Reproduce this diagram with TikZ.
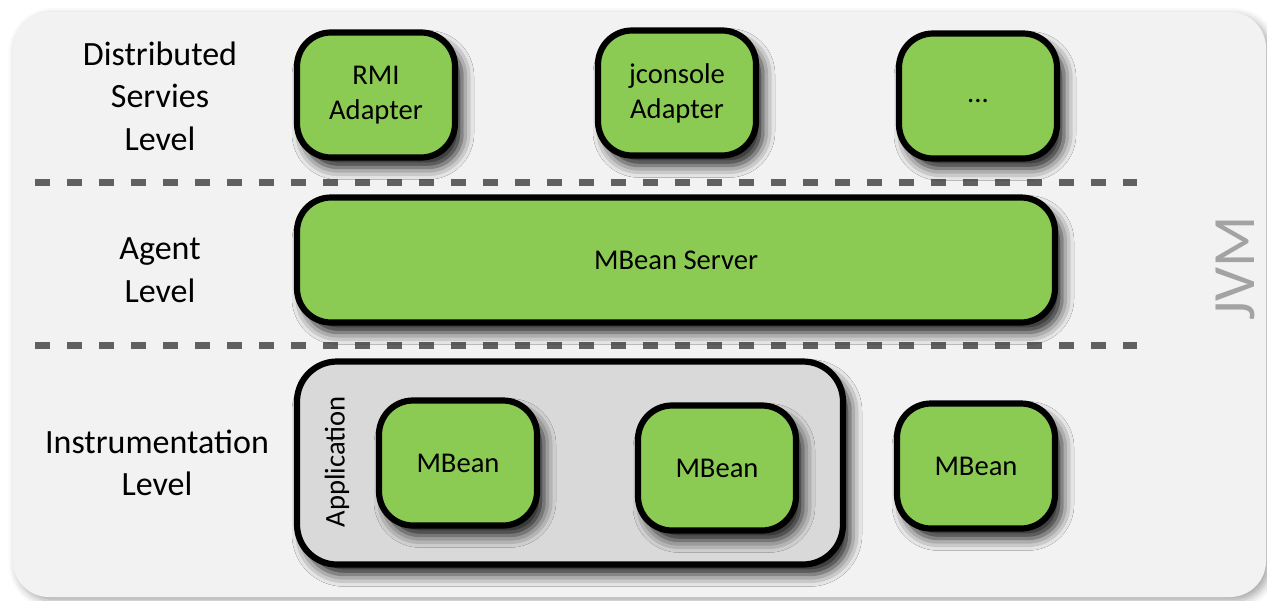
\documentclass[tikz,border=0pt]{standalone}
\usepackage{fontspec}
\setmainfont{Carlito}
\usetikzlibrary{shadows.blur}
\definecolor{beangreen}{HTML}{8BCB53}
\definecolor{jvmback}{HTML}{F2F2F2}
\definecolor{appgray}{HTML}{D9D9D9}
\definecolor{sepgray}{HTML}{606060}
\definecolor{jvmgray}{HTML}{A3A3A3}

\begin{document}
\begin{tikzpicture}[x = 0.5pt, y = -0.5pt,
    bean/.style = {shape = rectangle, rounded corners = 17pt, draw, line width = 3.1pt, fill = beangreen,
        minimum width = 79pt, minimum height = 62.5pt, inner sep = 0pt, align = center,
        font = \fontsize{14.3}{17.5}\selectfont,
        blur shadow = {shadow xshift = 3.5pt, shadow yshift = -5pt, shadow blur radius = 6pt, shadow opacity = 90}},
    lvl/.style = {align = center, font = \fontsize{17}{21.3}\selectfont},
    sep/.style = {draw = sepgray, line width = 3.5pt, dash pattern = on 7.5pt off 8.5pt}]
    \useasboundingbox (0,0) rectangle (1267,600);
    % JVM frame
    \fill[jvmback, rounded corners = 18pt,
        blur shadow = {shadow xshift = 2pt, shadow yshift = -2pt, shadow blur radius = 4pt, shadow opacity = 35}]
        (13,12) rectangle (1266,597);
    \node[jvmgray, rotate = 90, inner sep = 0pt, font = \fontsize{30}{30}\selectfont] (JVM) at (1235,268) {JVM};
    % level separators
    \draw[sep] (35,182) -- (1137,182);
    \draw[sep] (35,345) -- (1137,345);
    % level labels
    \node[lvl] (DSL) at (160,96) {Distributed\\Servies\\Level};
    \node[lvl] (AL) at (160,270) {Agent\\Level};
    \node[lvl] (IL) at (157,463) {Instrumentation\\Level};
    % distributed services
    \node[bean] (RMI) at (376,95) {RMI\\Adapter};
    \node[bean] (JC) at (677,93) {jconsole\\Adapter};
    \node[bean] (DOTS) at (978,96) {};
    \node[anchor = base, font = \fontsize{14.3}{17.5}\selectfont] (DOTSL) at ([yshift = -3pt]DOTS.center) {...};
    % agent
    \node[bean, minimum width = 379pt] (SRV) at (676,260) {MBean Server};
    % instrumentation
    \node[bean, fill = appgray, minimum width = 273pt, minimum height = 101.5pt, rounded corners = 20pt] (APP) at (570,463) {};
    \node[rotate = 90, font = \fontsize{14.3}{17.5}\selectfont] (APPL) at (337,462) {Application};
    \node[bean] (MB1) at (458,463) {MBean};
    \node[bean] (MB2) at (717,468) {MBean};
    \node[bean] (MB3) at (976,466) {MBean};
\end{tikzpicture}
\end{document}
